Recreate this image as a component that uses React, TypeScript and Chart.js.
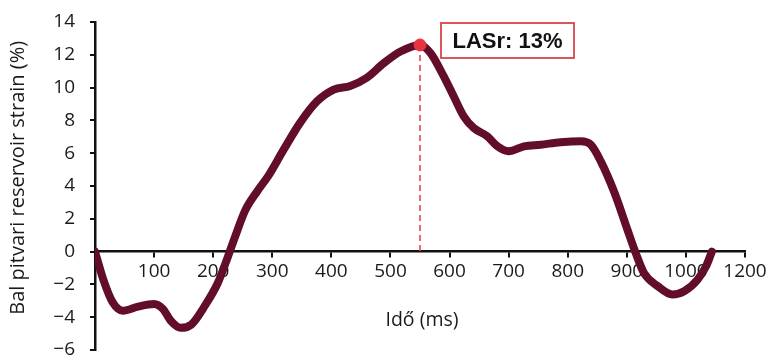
import React, { useEffect, useRef } from "react";
import { Chart, registerables } from "chart.js";

Chart.register(...registerables);

const timeMs = [0, 14, 30, 47, 73, 100, 115, 129, 145, 163, 186, 208, 225, 237, 254, 275, 293, 319, 347, 376, 404, 432, 460, 489, 517, 550, 568, 590, 607, 624, 641, 664, 681, 700, 726, 754, 788, 822, 839, 856, 879, 901, 915, 929, 952, 977, 997, 1020, 1034, 1044];
const strain = [0, -1.7, -3.1, -3.6, -3.35, -3.2, -3.5, -4.25, -4.65, -4.45, -3.3, -1.9, -0.3, 0.9, 2.5, 3.7, 4.6, 6.2, 7.85, 9.17, 9.88, 10.1, 10.6, 11.5, 12.2, 12.6, 12.1, 10.7, 9.47, 8.25, 7.54, 7.03, 6.42, 6.12, 6.42, 6.52, 6.67, 6.73, 6.52, 5.5, 3.6, 1.34, -0.08, -1.3, -2.1, -2.62, -2.42, -1.7, -0.9, 0];

const peakMs = 550;
const peakStrain = 12.6;
const peakLabel = "LASr: 13%";

const xTickValues = [0, 100, 200, 300, 400, 500, 600, 700, 800, 900, 1000, 1100];
const xTickLabels = ["", "100", "200", "300", "400", "500", "600", "700", "800", "900", "1000", "1200"];
const yTickValues = [-6, -4, -2, 0, 2, 4, 6, 8, 10, 12, 14];

const xTitle = "Idő (ms)";
const yTitle = "Bal pitvari reservoir strain (%)";

const tickFont = { family: "'Open Sans'", size: 19 };

const overlayPlugin = {
  id: "overlay",
  afterDraw(chart: any) {
    const { ctx, scales, chartArea } = chart;
    const x = scales.x;
    const y = scales.y;
    ctx.save();
    ctx.fillStyle = "#1a1a1a";
    ctx.textAlign = "center";
    ctx.textBaseline = "middle";
    // x axis title
    ctx.font = "19.5px 'Open Sans'";
    ctx.fillText(xTitle, (chartArea.left + chartArea.right) / 2 + 2, y.getPixelForValue(0) + 69);
    // y axis title
    ctx.save();
    ctx.translate(18, y.getPixelForValue(4.5));
    ctx.rotate(-Math.PI / 2);
    ctx.font = "20px 'Open Sans'";
    ctx.fillText(yTitle, 0, 0);
    ctx.restore();
    // peak label box
    const px = x.getPixelForValue(peakMs);
    const left = px + 21;
    const top = 23;
    const w = 133;
    const h = 35;
    ctx.fillStyle = "#ffffff";
    ctx.fillRect(left, top, w, h);
    ctx.strokeStyle = "#d8434b";
    ctx.lineWidth = 1.8;
    ctx.strokeRect(left, top, w, h);
    ctx.fillStyle = "#111111";
    ctx.font = "bold 22px 'Liberation Sans'";
    ctx.fillText(peakLabel, left + w / 2, top + h / 2 + 1);
    ctx.restore();
  },
};

export default function App() {
  const ref = useRef<HTMLCanvasElement | null>(null);
  useEffect(() => {
    if (!ref.current) return;
    const chart = new Chart(ref.current, {
      type: "line",
      data: {
        datasets: [
          {
            label: "peak",
            data: [{ x: peakMs, y: peakStrain }],
            pointRadius: 6,
            pointBackgroundColor: "#e8353d",
            pointBorderColor: "#e8353d",
            showLine: false,
            order: 0,
          },
          {
            label: "strain",
            data: timeMs.map((t, i) => ({ x: t, y: strain[i] })),
            borderColor: "#620d2a",
            borderWidth: 8,
            pointRadius: 0,
            cubicInterpolationMode: "monotone",
            borderCapStyle: "round",
            borderJoinStyle: "round",
            fill: false,
            order: 1,
          },
          {
            label: "dash",
            data: [{ x: peakMs, y: peakStrain }, { x: peakMs, y: 0 }],
            borderColor: "#e8474f",
            borderWidth: 1.6,
            borderDash: [6, 4],
            pointRadius: 0,
            fill: false,
            order: 2,
          },
        ],
      },
      options: {
        animation: false,
        responsive: true,
        maintainAspectRatio: false,
        layout: { padding: { left: 0, right: 21, top: 22, bottom: 5 }, autoPadding: false },
        plugins: { legend: { display: false }, tooltip: { enabled: false } },
        scales: {
          x: {
            type: "linear",
            position: { y: 0 },
            min: 0,
            max: 1100,
            afterBuildTicks: (scale: any) => {
              scale.ticks = xTickValues.map((v) => ({ value: v }));
            },
            afterFit: (scale: any) => {
              scale.paddingLeft = 0;
              scale.paddingRight = 0;
            },
            ticks: {
              font: tickFont,
              color: "#1a1a1a",
              padding: 4,
              maxRotation: 0,
              autoSkip: false,
              callback: (_v: any, i: number) => xTickLabels[i],
            },
            grid: { drawOnChartArea: false, drawTicks: true, tickLength: 5, color: "#111", lineWidth: 2 },
            border: { display: true, color: "#111", width: 2.5 },
          },
          y: {
            type: "linear",
            position: "left",
            min: -6,
            max: 14,
            afterBuildTicks: (scale: any) => {
              scale.ticks = yTickValues.map((v) => ({ value: v }));
            },
            afterFit: (scale: any) => {
              scale.width = 95;
              scale.paddingTop = 0;
              scale.paddingBottom = 0;
            },
            ticks: {
              font: tickFont,
              color: "#1a1a1a",
              padding: 15,
              autoSkip: false,
              callback: (v: any) => (v < 0 ? "\u2212" + Math.abs(v) : String(v)),
            },
            grid: { drawOnChartArea: false, drawTicks: true, tickLength: 5, color: "#111", lineWidth: 2 },
            border: { display: true, color: "#111", width: 2.5 },
          },
        },
      },
      plugins: [overlayPlugin],
    } as any);
    return () => chart.destroy();
  }, []);
  return (
    <div style={{ position: "fixed", left: 0, top: 0, width: 766, height: 355, background: "#fff" }}>
      <canvas ref={ref} />
    </div>
  );
}
